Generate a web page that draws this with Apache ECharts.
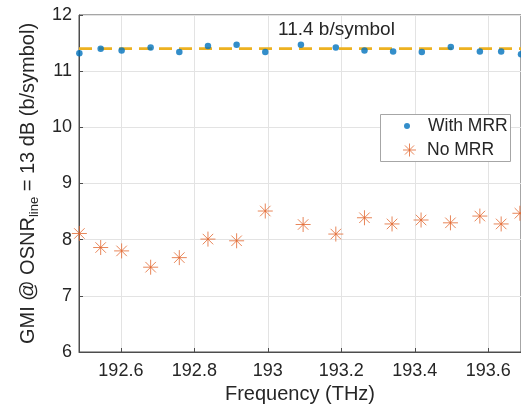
<!DOCTYPE html>
<html>
<head>
<meta charset="utf-8">
<script src="https://cdn.jsdelivr.net/npm/echarts@6/dist/echarts.min.js"></script>
<style>
  html, body { margin: 0; padding: 0; background: #fff; }
  #chart { width: 521px; height: 413px; }
</style>
</head>
<body>
<div id="chart"></div>
<script>
// Channel centre frequencies (THz)
const freqWith = [192.487, 192.545, 192.602, 192.681, 192.759, 192.837, 192.915, 192.993, 193.090,
                  193.185, 193.263, 193.341, 193.419, 193.498, 193.577, 193.635, 193.689];
const freqNo   = [192.487, 192.545, 192.602, 192.681, 192.759, 192.837, 192.915, 192.993, 193.096,
                  193.185, 193.263, 193.338, 193.417, 193.497, 193.577, 193.635, 193.686];
// GMI per channel (b/symbol)
const gmiWithMRR = [11.32, 11.40, 11.37, 11.42, 11.34, 11.45, 11.47, 11.34, 11.47,
                    11.42, 11.37, 11.35, 11.34, 11.43, 11.35, 11.35, 11.30];
const gmiNoMRR   = [8.11, 7.86, 7.80, 7.51, 7.68, 8.01, 7.98, 8.51, 8.27,
                    8.10, 8.39, 8.28, 8.35, 8.30, 8.42, 8.28, 8.47];
const targetGmi = 11.4;
const xTicks = [192.6, 192.8, 193.0, 193.2, 193.4, 193.6];
const yTicks = [6, 7, 8, 9, 10, 11, 12];
const xRange = [192.486, 193.689];

const FONT = '"Liberation Sans", Arial, Helvetica, sans-serif';
const TXT = '#262626';
const AXIS = '#4d4d4d';
const BLUE = '#0072BD';
const ORANGE = '#E2682F';
const star = 'path://M0,-10 L0,10 M-10,0 L10,0 M-7,-7 L7,7 M-7,7 L7,-7';

const chart = echarts.init(document.getElementById('chart'), null, { renderer: 'canvas' });

const zip = (xs, ys) => xs.map((x, i) => [x, ys[i]]);

const legendText = { color: TXT, fontSize: 17.5, fontFamily: FONT };

chart.setOption({
  animation: false,
  textStyle: { fontFamily: FONT },
  grid: { left: 79, top: 15, right: 0, bottom: 61, show: true, borderColor: AXIS, borderWidth: 1 },
  xAxis: {
    type: 'value', min: xRange[0], max: xRange[1],
    axisLine: { show: true, lineStyle: { color: AXIS } },
    axisTick: { show: true, inside: true, length: 4, customValues: xTicks, lineStyle: { color: AXIS } },
    axisLabel: { customValues: xTicks, color: TXT, fontSize: 18, margin: 10,
                 formatter: v => String(+(+v).toFixed(1)) },
    splitLine: { show: true, lineStyle: { color: '#e3e3e3' } },
    name: 'Frequency (THz)', nameLocation: 'middle', nameGap: 30,
    nameTextStyle: { color: TXT, fontSize: 20 }
  },
  yAxis: {
    type: 'value', min: yTicks[0], max: yTicks[yTicks.length - 1], interval: 1,
    axisLine: { show: true, lineStyle: { color: AXIS } },
    axisTick: { show: true, inside: true, length: 4, lineStyle: { color: AXIS } },
    axisLabel: { color: TXT, fontSize: 18, margin: 7 },
    splitLine: { show: true, lineStyle: { color: '#e3e3e3' } },
    name: '{m|GMI @ OSNR}{s|line}{m| = 13 dB (b/symbol)}',
    nameLocation: 'middle', nameGap: 36, nameRotate: 90,
    nameTextStyle: {
      color: TXT,
      rich: {
        m: { fontSize: 20, color: TXT, fontFamily: FONT },
        s: { fontSize: 13, color: TXT, fontFamily: FONT, padding: [12, 0, 0, 0] }
      }
    }
  },
  legend: [
    {
      orient: 'vertical', left: 404, top: 117, padding: 0, z: 20,
      itemWidth: 6, itemHeight: 6,
      textStyle: Object.assign({ padding: [0, 0, 0, 13] }, legendText),
      data: ['With MRR']
    },
    {
      orient: 'vertical', left: 400.5, top: 141, padding: 0, z: 20,
      itemWidth: 13, itemHeight: 13,
      itemStyle: { borderWidth: 1 },
      textStyle: Object.assign({ padding: [0, 0, 0, 6] }, legendText),
      data: ['No MRR']
    }
  ],
  series: [
    {
      name: 'target', type: 'line', silent: true, symbol: 'none', z: 3,
      data: [[xRange[0], targetGmi], [xRange[1], targetGmi]],
      lineStyle: { color: '#EDB120', width: 2.8, type: [13, 7] }
    },
    {
      name: 'With MRR', type: 'scatter', z: 4,
      symbol: 'circle', symbolSize: 6.5,
      itemStyle: { color: BLUE },
      data: zip(freqWith, gmiWithMRR)
    },
    {
      name: 'No MRR', type: 'scatter', z: 4,
      symbol: star, symbolSize: 15,
      itemStyle: { color: 'none', borderColor: ORANGE, borderWidth: 1 },
      data: zip(freqNo, gmiNoMRR)
    }
  ],
  graphic: [
    {
      type: 'rect', z: 1, silent: true,
      shape: { x: 380.5, y: 114.5, width: 130, height: 47 },
      style: { fill: '#fff', stroke: '#a6a6a6', lineWidth: 1 }
    },
    {
      type: 'text', z: 10,
      style: { x: 278, y: 30, text: targetGmi + ' b/symbol', fill: TXT, fontSize: 19,
               fontFamily: FONT, textAlign: 'left', textVerticalAlign: 'middle' }
    }
  ]
});
</script>
</body>
</html>
